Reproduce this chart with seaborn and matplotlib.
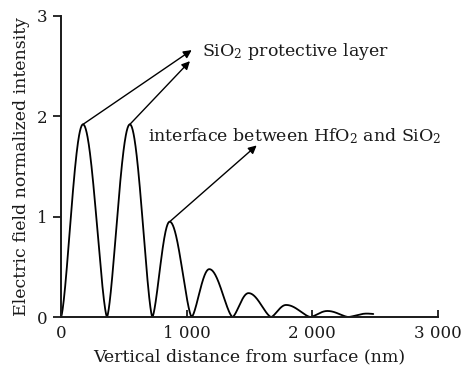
import numpy as np
import pandas as pd
import matplotlib
matplotlib.use("Agg")
import matplotlib.pyplot as plt
import seaborn as sns

# --- data ---
zero_x = [0, 366, 727, 1040, 1365, 1672, 1985, 2286]      # nm, nodes
peak_x = [175, 548, 865, 1180, 1492, 1791, 2120, 2434]    # nm, antinodes
peak_y = [1.92, 1.92, 0.95, 0.477, 0.238, 0.12, 0.06, 0.034]
end_x = 2485
end_y = 0.030
x_ticks = [0, 1000, 2000, 3000]
x_tick_labels = ["0", "1 000", "2 000", "3 000"]
y_ticks = [0, 1, 2, 3]
y_tick_labels = ["0", "1", "2", "3"]
x_label = "Vertical distance from surface (nm)"
y_label = "Electric field normalized intensity"
label_sio2 = "SiO$_2$ protective layer"
label_interface = "interface between HfO$_2$ and SiO$_2$"

# build smooth lobes between nodes (standing-wave lobe shape)
P = 1.5
xs, ys = [], []
for i in range(len(peak_x)):
    z0 = zero_x[i]
    pk = peak_x[i]
    a = peak_y[i]
    t = np.linspace(0, 1, 80)
    xs.extend(z0 + (pk - z0) * t)
    ys.extend(a * np.sin(t * np.pi / 2) ** P)
    if i + 1 < len(zero_x):
        z1 = zero_x[i + 1]
        t = np.linspace(0, 1, 80)[1:]
        xs.extend(pk + (z1 - pk) * t)
        ys.extend(a * np.cos(t * np.pi / 2) ** P)
    else:
        t = np.linspace(0, 1, 20)[1:]
        xe = pk + (end_x - pk) * t
        xs.extend(xe)
        ys.extend(end_y + (a - end_y) * np.cos(t * np.pi / 2))

df = pd.DataFrame({"distance": xs, "intensity": ys})

sns.set_theme(style="ticks")
plt.rcParams["font.family"] = ["DejaVu Serif"]
plt.rcParams["mathtext.default"] = "regular"

TXT = "#1a1a1a"
fig = plt.figure(figsize=(4.62, 3.79), dpi=100)
ax = fig.add_axes([61 / 462, 1 - 317 / 379, (438 - 61) / 462, (317 - 16) / 379])

sns.lineplot(data=df, x="distance", y="intensity", ax=ax, color="black",
             linewidth=1.3, sort=False, estimator=None)

ax.set_xlim(0, 3000)
ax.set_ylim(0, 3)
ax.set_xticks(x_ticks)
ax.set_xticklabels(x_tick_labels, fontsize=12)
ax.set_yticks(y_ticks)
ax.set_yticklabels(y_tick_labels, fontsize=12)
ax.tick_params(axis="x", direction="in", length=5, width=1.3, pad=6, colors=TXT)
ax.tick_params(axis="y", direction="out", length=6, width=1.3, colors=TXT)
ax.set_xlabel(x_label, fontsize=12.5, color=TXT, labelpad=4)
ax.set_ylabel(y_label, fontsize=12.5, color=TXT, labelpad=5)
for s in ["top", "right"]:
    ax.spines[s].set_visible(False)
for s in ["left", "bottom"]:
    ax.spines[s].set_linewidth(1.4)
    ax.spines[s].set_color(TXT)

arrow = dict(arrowstyle="-|>", color="black", lw=1.0, mutation_scale=12,
             shrinkA=0, shrinkB=0)
ax.annotate("", xy=(1040, 2.66), xytext=(peak_x[0], peak_y[0]), arrowprops=arrow)
ax.annotate("", xy=(1026, 2.55), xytext=(peak_x[1], peak_y[1]), arrowprops=arrow)
ax.annotate("", xy=(1557, 1.71), xytext=(peak_x[2], peak_y[2]), arrowprops=arrow)
ax.text(1120, 2.65, label_sio2, fontsize=12.5, va="center", ha="left", color=TXT)
ax.text(695, 1.80, label_interface, fontsize=12.5, va="center", ha="left", color=TXT)

fig.savefig("out.png", dpi=100)
